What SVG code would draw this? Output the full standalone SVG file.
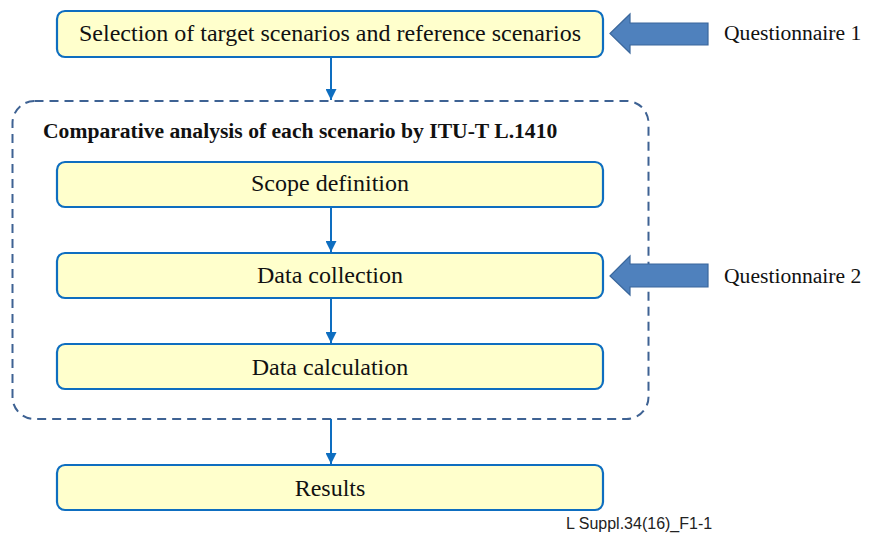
<svg xmlns="http://www.w3.org/2000/svg" width="877" height="533" viewBox="0 0 877 533">
  <style>
    .box { fill: #FFFFCC; stroke: #0E6EC0; stroke-width: 2.2; }
    .lbl { font-family: "Liberation Serif", "Times New Roman", serif; font-size: 24px; fill: #111; text-anchor: middle; }
    .side { font-family: "Liberation Serif", "Times New Roman", serif; font-size: 21.6px; fill: #111; }
    .title { font-family: "Liberation Serif", "Times New Roman", serif; font-size: 21.6px; font-weight: bold; fill: #111; }
    .conn { stroke: #0E6EC0; stroke-width: 2; fill: none; }
    .fat { fill: #4F81BD; stroke: #3A679C; stroke-width: 1.2; }
    .frame { fill: none; stroke: #3E6293; stroke-width: 2; stroke-dasharray: 9 6; }
    .foot { font-family: "Liberation Sans", Arial, sans-serif; font-size: 16px; fill: #222; }
  </style>
  <defs>
    <marker id="ah" viewBox="0 0 10 10" refX="10" refY="5" markerWidth="5.5" markerHeight="5.5" orient="auto" markerUnits="strokeWidth">
      <path d="M0,0 L10,5 L0,10 Z" fill="#0E6EC0"/>
    </marker>
  </defs>

  <!-- dashed grouping frame -->
  <g id="analysis">
    <rect class="frame" x="12.5" y="101" width="636" height="318" rx="22"/>
    <text class="title" x="43" y="138">Comparative analysis of each scenario by ITU-T L.1410</text>
  </g>

  <g id="selection">
    <rect class="box" x="57" y="11" width="546" height="46" rx="8"/>
    <text class="lbl" x="330" y="41">Selection of target scenarios and reference scenarios</text>
  </g>
  <g id="scope">
    <rect class="box" x="57" y="162" width="546" height="45" rx="8"/>
    <text class="lbl" x="330" y="191">Scope definition</text>
  </g>
  <g id="collection">
    <rect class="box" x="57" y="253" width="546" height="45" rx="8"/>
    <text class="lbl" x="330" y="283">Data collection</text>
  </g>
  <g id="calculation">
    <rect class="box" x="57" y="344" width="546" height="45" rx="8"/>
    <text class="lbl" x="330" y="375">Data calculation</text>
  </g>
  <g id="results">
    <rect class="box" x="57" y="465" width="546" height="45" rx="8"/>
    <text class="lbl" x="330" y="496">Results</text>
  </g>

  <g id="q1">
    <path class="fat" d="M610,33.5 L630,14 L630,23 L708,23 L708,45 L630,45 L630,53 Z"/>
    <text class="side" x="724" y="40">Questionnaire 1</text>
  </g>
  <g id="q2">
    <path class="fat" d="M610,276 L630,256 L630,264 L708,264 L708,287 L630,287 L630,295 Z"/>
    <text class="side" x="724" y="283">Questionnaire 2</text>
  </g>

  <g id="connectors">
    <line class="conn" x1="331" y1="57" x2="331" y2="100" marker-end="url(#ah)"/>
    <line class="conn" x1="331" y1="207" x2="331" y2="252" marker-end="url(#ah)"/>
    <line class="conn" x1="331" y1="298" x2="331" y2="343" marker-end="url(#ah)"/>
    <line class="conn" x1="331" y1="419" x2="331" y2="464" marker-end="url(#ah)"/>
  </g>

  <text class="foot" x="566" y="529">L Suppl.34(16)_F1-1</text>
</svg>
